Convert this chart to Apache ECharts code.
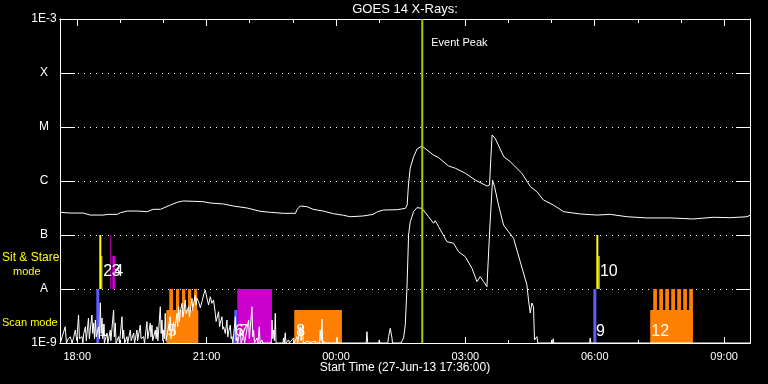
<!DOCTYPE html>
<html><head><meta charset="utf-8">
<script src="https://cdn.jsdelivr.net/npm/echarts@6/dist/echarts.min.js"></script>
<style>html,body{margin:0;padding:0;background:#000}#c{width:768px;height:384px}</style>
</head><body><div id="c"></div>
<script>
// Hours since 27-Jun-13 00:00 (values > 24 are on 28-Jun)
const xStart = 17.6, xEnd = 33.6;
const majorHours = [18, 21, 24, 27, 30, 33];
const minorHours = [18,19,20,21,22,23,24,25,26,27,28,29,30,31,32,33];
const yLevelNames = {'-9':'1E-9','-8':'A','-7':'B','-6':'C','-5':'M','-4':'X','-3':'1E-3'};
const titleText = 'GOES 14 X-Rays:';
const xTitleText = 'Start Time (27-Jun-13 17:36:00)';
const peakHour = 26.0;
const peakText = 'Event Peak';

// GOES long channel (1-8 A), W/m^2
const longFlux = [
[17.61,2.63e-7],[17.84,2.55e-7],[18.14,2.55e-7],[18.30,2.34e-7],[18.60,2.34e-7],[18.72,2.41e-7],[18.93,2.41e-7],[19.00,2.59e-7],[19.16,2.78e-7],[19.39,2.78e-7],[19.62,2.70e-7],[19.76,2.99e-7],[19.93,2.99e-7],[20.00,3.16e-7],[20.16,3.59e-7],[20.32,4.04e-7],[20.46,4.27e-7],[20.69,4.21e-7],[20.92,4.14e-7],[21.08,3.92e-7],[21.39,3.75e-7],[21.62,3.44e-7],[21.94,3.16e-7],[22.24,2.75e-7],[22.48,2.63e-7],[22.78,2.52e-7],[23.06,2.52e-7],[23.10,2.99e-7],[23.17,3.44e-7],[23.33,3.34e-7],[23.47,2.99e-7],[23.70,2.78e-7],[23.94,2.48e-7],[24.17,2.32e-7],[24.33,2.18e-7],[24.63,2.25e-7],[24.86,2.41e-7],[24.96,2.70e-7],[25.10,2.90e-7],[25.42,2.94e-7],[25.61,3.12e-7],[25.65,3.59e-7],[25.68,8.43e-7],[25.72,1.72e-6],[25.80,2.82e-6],[25.88,3.92e-6],[25.99,4.45e-6],[26.11,3.75e-6],[26.26,3.03e-6],[26.30,3.26e-6],[26.38,2.70e-6],[26.61,1.90e-6],[26.77,1.72e-6],[27.00,1.39e-6],[27.23,1.04e-6],[27.50,8.07e-7],[27.56,8.43e-7],[27.59,2.63e-6],[27.62,7.11e-6],[27.69,6.18e-6],[27.89,2.82e-6],[28.04,2.28e-6],[28.31,1.39e-6],[28.51,7.83e-7],[28.66,6.33e-7],[28.81,4.45e-7],[29.04,3.59e-7],[29.28,2.70e-7],[29.67,2.45e-7],[30.05,2.34e-7],[30.36,2.41e-7],[30.75,2.18e-7],[31.21,2.07e-7],[31.75,2.07e-7],[32.28,1.98e-7],[32.75,2.13e-7],[33.14,2.09e-7],[33.53,2.18e-7],[33.60,2.32e-7]
];

// GOES short channel (0.5-4 A), W/m^2 (floor 1E-9)
const shortFlux = [
[17.61,1e-9],[17.65,1.3e-9],[17.72,2.0e-9],[17.75,1e-9],[17.79,1.2e-9],[17.84,1.3e-9],[17.88,1e-9],[17.92,1.3e-9],[17.955,1.74e-9],[17.99,1.1e-9],[18.03,3.3e-9],[18.05,1.2e-9],[18.07,1.3e-9],[18.11,1.31e-9],[18.13,1e-9],[18.15,1.5e-9],[18.19,2.0e-9],[18.21,1.1e-9],[18.26,2.9e-9],[18.28,1.2e-9],[18.34,3.3e-9],[18.36,1.5e-9],[18.38,2.35e-9],[18.40,1.2e-9],[18.42,2.67e-9],[18.44,1.3e-9],[18.495,2.0e-9],[18.515,1.2e-9],[18.534,5.57e-9],[18.555,1.5e-9],[18.574,2.9e-9],[18.59,1.2e-9],[18.611,2.0e-9],[18.63,1e-9],[18.69,1.53e-9],[18.71,1e-9],[18.766,1.74e-9],[18.78,1.1e-9],[18.843,4.08e-9],[18.86,1.3e-9],[18.882,2.35e-9],[18.90,1e-9],[18.959,1.31e-9],[18.98,1e-9],[19.038,3.07e-9],[19.055,1.2e-9],[19.075,1.74e-9],[19.10,1e-9],[19.153,1.31e-9],[19.17,1e-9],[19.23,1.74e-9],[19.25,1.1e-9],[19.307,1.53e-9],[19.33,1e-9],[19.385,1.74e-9],[19.40,1.1e-9],[19.462,2.15e-9],[19.48,1.2e-9],[19.538,1.31e-9],[19.56,1e-9],[19.617,2.48e-9],[19.635,1.2e-9],[19.694,2.33e-9],[19.71,1.3e-9],[19.733,2.15e-9],[19.75,1.1e-9],[19.81,1.74e-9],[19.83,1.2e-9],[19.849,2.0e-9],[19.87,1.1e-9],[19.926,4.70e-9],[19.945,1.5e-9],[19.965,2.67e-9],[19.985,1.1e-9],[20.002,1.74e-9],[20.02,1.2e-9],[20.041,3.55e-9],[20.06,1.1e-9],
[20.157,3.07e-9],[20.175,1.2e-9],[20.196,1.74e-9],[20.234,2.48e-9],[20.25,1.5e-9],[20.313,3.55e-9],[20.33,2.0e-9],[20.35,4.70e-9],[20.37,2.5e-9],[20.389,3.8e-9],[20.429,5.43e-9],[20.447,3.0e-9],[20.466,3.55e-9],[20.505,6.25e-9],[20.525,3.5e-9],[20.582,4.70e-9],[20.60,3.0e-9],[20.661,6.73e-9],[20.68,4.0e-9],[20.698,5.43e-9],[20.737,7.74e-9],[20.755,5.0e-9],[20.776,6.73e-9],[20.814,5.82e-9],[20.853,4.5e-9],[20.892,5.82e-9],[20.930,7.74e-9],[20.969,9.57e-9],[21.008,6.73e-9],[21.045,5.06e-9],[21.085,7.19e-9],[21.124,5.43e-9],[21.161,6.25e-9],[21.201,3.55e-9],[21.22,2.5e-9],[21.240,2.67e-9],[21.277,3.80e-9],[21.30,2.0e-9],[21.317,2.33e-9],[21.356,3.07e-9],[21.375,1.8e-9],[21.393,2.0e-9],[21.433,1.5e-9],[21.472,2.67e-9],[21.49,1.3e-9],[21.509,1.62e-9],[21.549,2.15e-9],[21.57,1.2e-9],[21.588,1.31e-9],[21.61,1e-9],[21.665,3.07e-9],[21.685,1.1e-9],[21.704,1.31e-9],[21.72,1e-9],[21.78,1.74e-9],[21.80,1e-9],[21.857,1.40e-9],[21.88,1e-9],[21.973,2.67e-9],[21.99,1.2e-9],[22.052,4.70e-9],[22.07,1.3e-9],[22.089,1.74e-9],[22.11,1e-9],[22.168,1.24e-9],[22.19,1e-9],[22.221,2.0e-9],[22.24,1e-9],[22.284,1.14e-9],[22.30,1e-9],
[22.50,1e-9],[22.515,2.67e-9],[22.535,1.2e-9],[22.553,1.74e-9],[22.572,1.1e-9],[22.592,3.55e-9],[22.61,1e-9],[22.77,1e-9],[22.784,1.24e-9],[22.80,1e-9],[22.824,1.55e-9],[22.84,1e-9],[22.900,1.14e-9],[22.92,1e-9],[23.016,1.24e-9],[23.03,1e-9],[23.095,1.31e-9],[23.11,1e-9],[23.172,2.0e-9],[23.19,1.1e-9],[23.225,2.15e-9],[23.24,1e-9],[23.364,1.09e-9],[23.38,1e-9],[23.519,1.09e-9],[23.53,1e-9],[23.62,1e-9],[23.635,1.74e-9],[23.655,1.1e-9],[23.675,2.75e-9],[23.69,1e-9],[23.712,1.09e-9],[23.73,1e-9],[24.01,1e-9],[24.022,1.28e-9],[24.04,1e-9],[24.70,1e-9],[24.718,1.62e-9],[24.735,1e-9],[24.99,1e-9],[25.003,1.14e-9],[25.02,1e-9],[25.20,1e-9],[25.219,1.31e-9],[25.258,1.87e-9],[25.298,1.24e-9],[25.31,1e-9],[25.51,1e-9],[25.530,1.09e-9],
[25.567,1.24e-9],[25.606,2.15e-9],[25.645,1.03e-8],[25.683,1.0e-7],[25.722,1.76e-7],[25.799,2.70e-7],[25.877,3.21e-7],[25.993,3.12e-7],[26.146,2.18e-7],[26.262,1.65e-7],[26.302,1.84e-7],[26.378,1.43e-7],[26.573,7.52e-8],[26.726,7.02e-8],[26.842,4.91e-8],[26.997,3.97e-8],[27.153,2.42e-8],[27.268,1.37e-8],[27.345,1.69e-8],[27.422,1.37e-8],[27.500,1.10e-8],[27.537,1.19e-8],[27.570,1.53e-7],[27.630,1.04e-6],[27.677,7.83e-7],[27.769,3.59e-7],[27.885,1.53e-7],[28.001,1.15e-7],[28.117,8.69e-8],[28.272,3.21e-8],[28.427,1.19e-8],[28.464,6.25e-9],[28.504,3.60e-9],[28.543,5.51e-9],[28.580,4.70e-9],[28.603,1.14e-9],[28.63,1.09e-9],[28.659,1.31e-9],[28.68,1e-9],
[29.02,1e-9],[29.035,1.2e-9],[29.05,1e-9],[29.88,1e-9],[29.895,1.24e-9],[29.91,1e-9],[33.60,1e-9]
];

// Observation blocks: [startHour, endHour, lowFlux, highFlux]
const blueBars = [[18.442,18.511,1e-9,1e-8],[21.641,21.710,1e-9,4.08e-9],[29.967,30.037,1e-9,1e-8]];
const yellowBars = [[18.511,18.558,1e-8,1e-7],[18.558,18.581,1e-8,4.08e-8],[30.037,30.083,1e-8,1e-7],[30.083,30.113,1e-8,4.08e-8]];
const magentaBars = [[18.766,18.789,1e-8,1e-7],[18.813,18.882,1e-8,4.08e-8],[21.710,22.517,1e-9,1e-8]];
const orangeBars = [
[20.065,20.807,1e-9,4.08e-9],[20.134,20.220,4.08e-9,1e-8],[20.290,20.366,4.08e-9,1e-8],[20.429,20.506,4.08e-9,1e-8],[20.568,20.644,4.08e-9,1e-8],[20.707,20.783,4.08e-9,1e-8],
[23.032,24.138,1e-9,4.08e-9],
[31.286,32.277,1e-9,4.08e-9],[31.356,31.442,4.08e-9,1e-8],[31.495,31.582,4.08e-9,1e-8],[31.634,31.721,4.08e-9,1e-8],[31.773,31.860,4.08e-9,1e-8],[31.912,31.999,4.08e-9,1e-8],[32.051,32.138,4.08e-9,1e-8],[32.190,32.277,4.08e-9,1e-8]
];
// Event numbers: [label, hour, flux level of the label]
const eventLabels = [['1',18.512,1.6e-9],['2',18.604,2.07e-8],['3',18.80,2.07e-8],['4',18.86,2.07e-8],['5',20.10,1.6e-9],['6',21.653,1.6e-9],['7',21.757,1.6e-9],['8',23.079,1.6e-9],['9',30.03,1.6e-9],['10',30.12,2.07e-8],['12',31.31,1.6e-9]];

const FONT = 'Liberation Sans';
const W = '#ffffff';
function hourFmt(v){ const h = ((Math.round(v) % 24) + 24) % 24; return (h < 10 ? '0' : '') + h + ':00'; }
function rectItem(params, api){
  const p0 = api.coord([api.value(0), api.value(3)]);
  const p1 = api.coord([api.value(1), api.value(2)]);
  return {type:'rect', shape:{x:p0[0], y:p0[1], width:p1[0]-p0[0], height:p1[1]-p0[1]}, style:{fill: api.visual('color')}};
}
function barSeries(data, color){
  return {type:'custom', data, renderItem: rectItem, itemStyle:{color}, encode:{x:[0,1], y:[2,3]}, z:1, silent:true};
}
function xAx(pos, ticks, len, labels){
  return {type:'value', min:xStart, max:xEnd, position:pos, gridIndex:0,
    axisLine:{show:true, onZero:false, lineStyle:{color:W, width:1}},
    axisTick:{show:true, inside:true, length:len, customValues:ticks, lineStyle:{color:W, width:1}},
    axisLabel: labels ? {show:true, customValues:majorHours, formatter:hourFmt, color:W, fontSize:11, fontFamily:FONT, margin:8} : {show:false},
    splitLine:{show:false}};
}

const chart = echarts.init(document.getElementById('c'), null, {renderer:'canvas'});
chart.setOption({
  backgroundColor:'#000',
  animation:false,
  grid:{left:60, right:18, top:19, bottom:41, containLabel:false},
  xAxis:[ xAx('bottom', majorHours, 6, true), xAx('bottom', minorHours, 3, false), xAx('top', majorHours, 7, false), xAx('top', minorHours, 4, false) ],
  yAxis:[
    {type:'log', logBase:10, min:1e-9, max:1e-3, splitNumber:6, position:'left',
     axisLine:{show:true, lineStyle:{color:W, width:1}},
     axisTick:{show:true, inside:true, length:15, lineStyle:{color:W, width:1}},
     minorTick:{show:false},
     axisLabel:{show:true, color:W, fontSize:12, fontFamily:FONT, align:'center', margin:16,
       formatter:v => yLevelNames[String(Math.round(Math.log10(v)))] || ''},
     splitLine:{show:true, lineStyle:{color:W, width:1, type:[1,5]}}},
    {type:'log', logBase:10, min:1e-9, max:1e-3, splitNumber:6, position:'right',
     axisLine:{show:true, lineStyle:{color:W, width:1}},
     axisTick:{show:true, inside:true, length:14, lineStyle:{color:W, width:1}},
     axisLabel:{show:false}, splitLine:{show:false}}
  ],
  graphic:[
    {type:'text', x:405, y:9, style:{text:titleText, fill:W, font:'13px '+FONT, align:'center', verticalAlign:'middle'}},
    {type:'text', x:405, y:368, style:{text:xTitleText, fill:W, font:'12px '+FONT, align:'center', verticalAlign:'middle'}},
    {type:'text', x:2, y:258, style:{text:'Sit & Stare', fill:'#ffff00', font:'12px '+FONT, align:'left', verticalAlign:'middle'}},
    {type:'text', x:13, y:272, style:{text:'mode', fill:'#ffff00', font:'11px '+FONT, align:'left', verticalAlign:'middle'}},
    {type:'text', x:2, y:323, style:{text:'Scan mode', fill:'#ffff00', font:'11px '+FONT, align:'left', verticalAlign:'middle'}}
  ],
  series:[
    barSeries(blueBars, '#5c5cff'),
    barSeries(yellowBars, '#ffff00'),
    barSeries(magentaBars, '#cc00cc'),
    barSeries(orangeBars, '#ff8000'),
    {type:'line', data:longFlux, showSymbol:false, symbol:'none', lineStyle:{color:W, width:1}, itemStyle:{color:W}, z:3, silent:true},
    {type:'line', data:shortFlux, showSymbol:false, symbol:'none', lineStyle:{color:W, width:1}, itemStyle:{color:W}, z:3, silent:true},
    {type:'custom', data:eventLabels.map(e => [e[1], e[2], e[0]]), encode:{x:0, y:1}, z:4, silent:true,
     renderItem:(params, api) => {
       const p = api.coord([api.value(0), api.value(1)]);
       return {type:'text', x:p[0], y:p[1], style:{text:eventLabels[params.dataIndex][0], fill:W, font:'16px '+FONT, align:'left', verticalAlign:'middle'}};
     }},
    {type:'custom', data:[[peakHour]], encode:{x:0}, z:5, silent:true,
     renderItem:(params, api) => {
       const t = api.value(0);
       const a = api.coord([t, 1e-9]), b = api.coord([t, 1e-3]);
       return {type:'group', children:[
         {type:'line', shape:{x1:a[0], y1:a[1], x2:b[0], y2:b[1]}, style:{stroke:'#a0d000', lineWidth:2}},
         {type:'text', x:b[0]+9, y:b[1]+24, style:{text:peakText, fill:W, font:'11px '+FONT, align:'left', verticalAlign:'middle'}}
       ]};
     }}
  ]
});
</script></body></html>
